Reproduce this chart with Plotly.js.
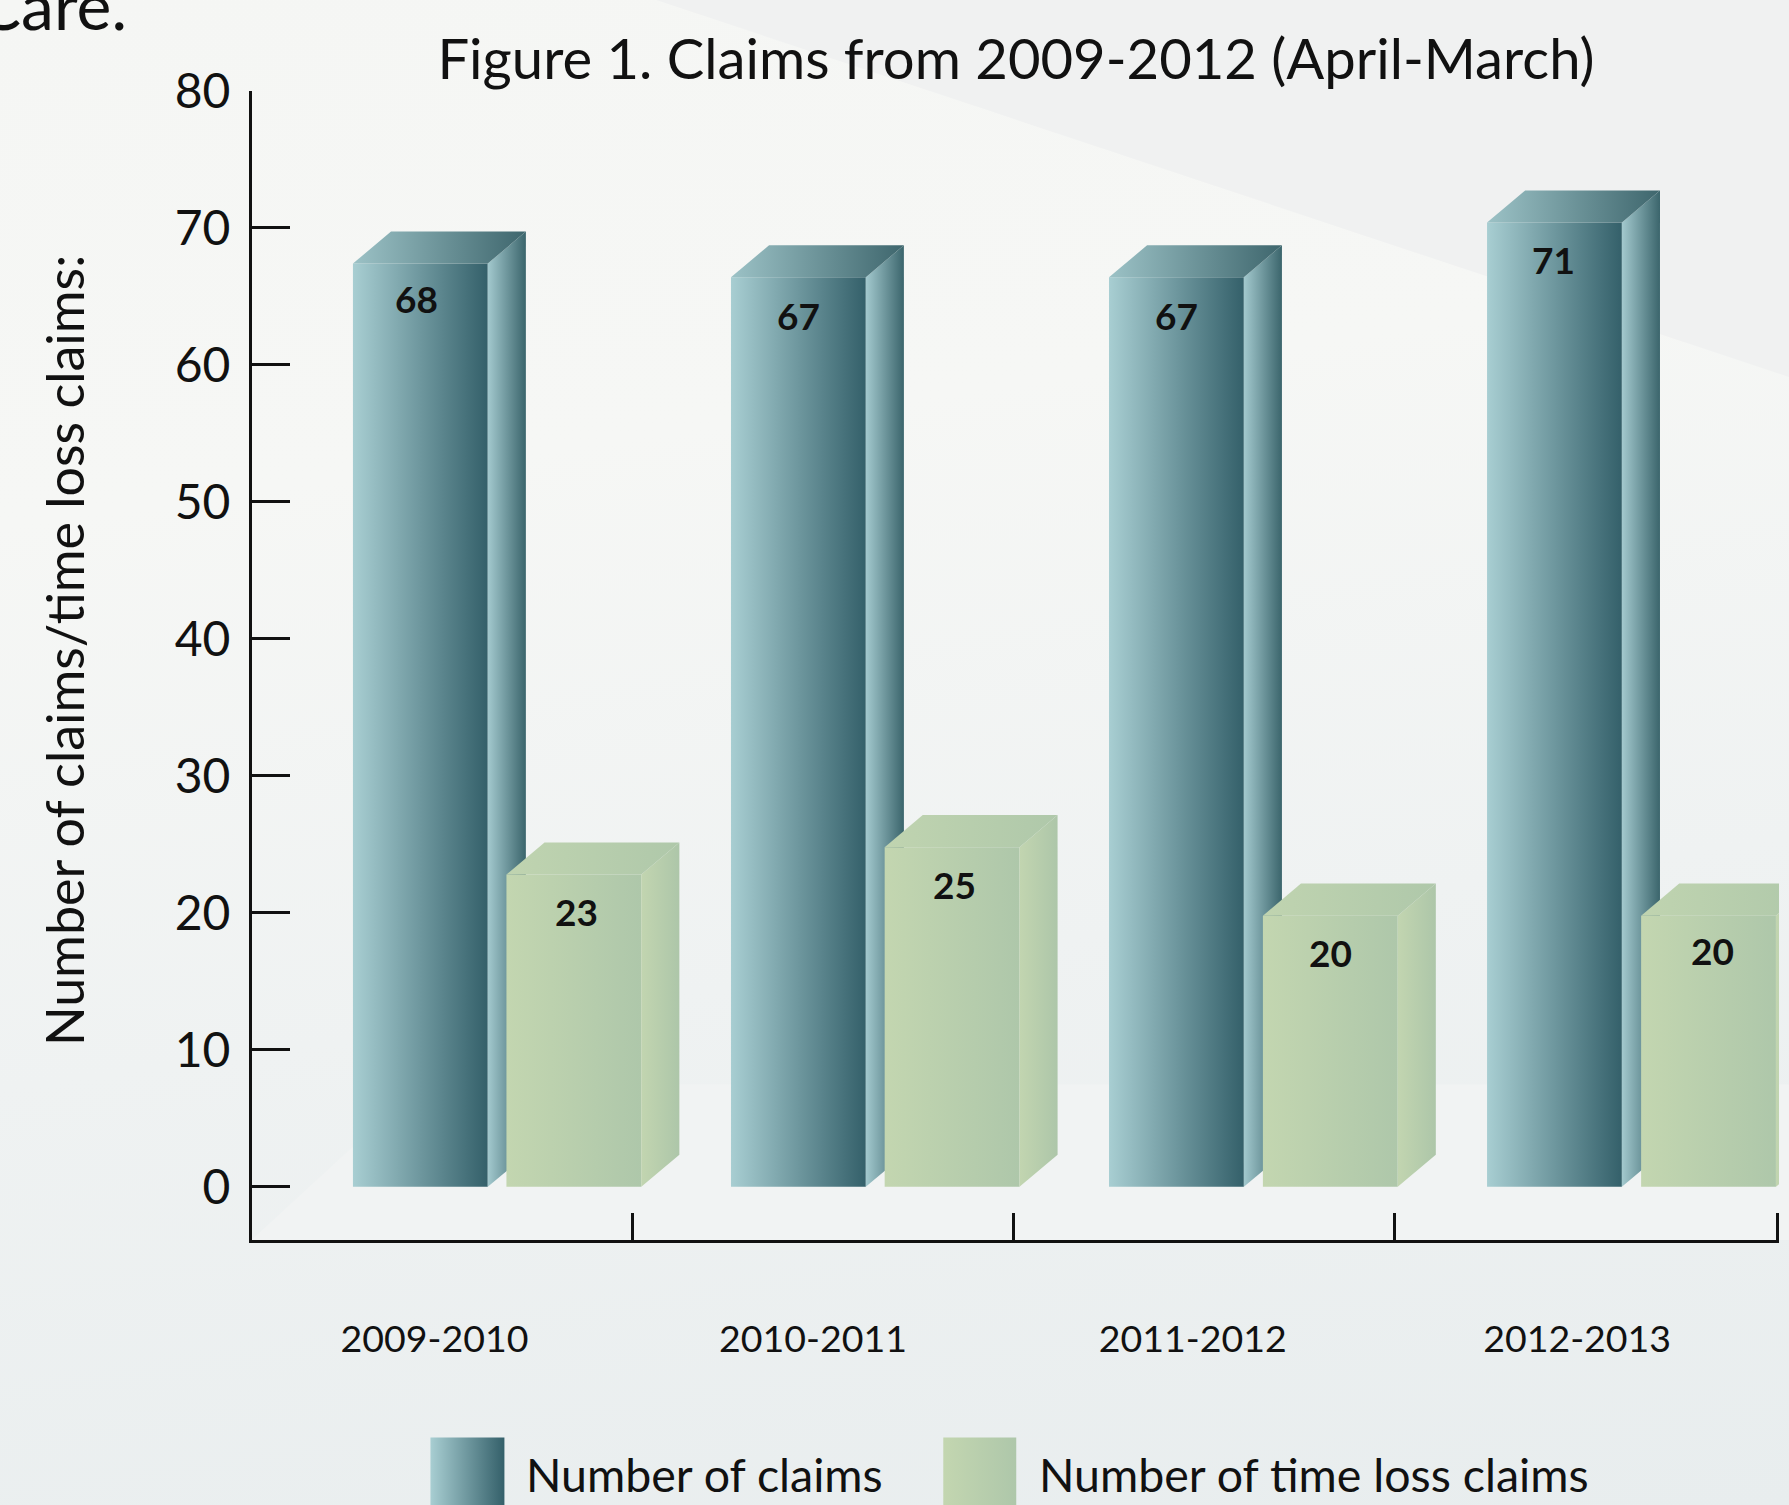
<!DOCTYPE html>
<html><head><meta charset="utf-8">
<script src="https://cdn.plot.ly/plotly-3.0.1.min.js"></script>
<style>
html,body{margin:0;padding:0;width:1789px;height:1505px;overflow:hidden;
background:linear-gradient(172deg,#f5f6f4 0%,#f6f7f5 30%,#eff2f2 62%,#e8edee 100%);}
#chart{width:1789px;height:1505px;}
</style></head><body><div id="chart"></div>
<script>
// ---- chart values ----
const categories = ['2009-2010','2010-2011','2011-2012','2012-2013'];
const claimLabels = [68,67,67,71];
const timeLossLabels = [23,25,20,20];
const claimHeights = [67.4,66.4,66.4,70.4];      // bar tops as drawn in the picture
const timeLossHeights = [22.8,24.8,19.8,19.8];
const yTicks = [0,10,20,30,40,50,60,70,80];
const seriesNames = ['Number of claims','Number of time loss claims'];

// ---- geometry & style ----
const W=1789,H=1505,L=251.5,R=1779,T=91,B=1240.5;
const FONT='Lato, "Noto Sans", sans-serif', INK='#111111';
const xRange=[-0.479,3.53], yRange=[-3.88,80];
const barW=0.354, depthX=0.1, depthY=2.34;
const positions=categories.map((_,i)=>i);
const labelPositions=[0,0.994,1.991,3];
const claimOffsets=positions.map(i=>-0.214-0.0075*i);
const lossOffsets=positions.map(i=>0.189-0.007*i);
const boundaries=[0.52,1.52,2.52,3.527];
const claimNudge=[[-4,2],[0,-1],[0,-1],[-1,0]], lossNudge=[[3,0],[2,0],[0,0],[4,2]];
const claimFront=['#a8ced2','#34606a'], claimSide=['#a3c9ce','#3b656c'], claimTop=['#9cc2c6','#3e666d'];
const lossFront=['#c3d6b0','#aec7aa'], lossSide=['#c2d5b0','#adc6a9'], lossTop=['#c0d4b0','#afc8aa'];

const px=x=>(x-L)/(R-L), py=y=>(B-y)/(B-T);

function faces(heights,offsets,side,top,xa,ya){
  const out=[];
  heights.forEach((h,i)=>{
    const l=i+offsets[i], r=l+barW;
    const common={type:'scatter',mode:'none',fill:'toself',hoverinfo:'skip',showlegend:false,cliponaxis:false,xaxis:xa,yaxis:ya};
    out.push(Object.assign({},common,{x:[r,r+depthX,r+depthX,r,r],y:[0,depthY,h+depthY,h,0],
      fillcolor:side[0],fillgradient:{type:'horizontal',colorscale:[[0,side[0]],[1,side[1]]]}}));
    out.push(Object.assign({},common,{x:[l,l+depthX,r+depthX,r,l],y:[h,h+depthY,h+depthY,h,h],
      fillcolor:top[0],fillgradient:{type:'horizontal',colorscale:[[0,top[0]],[1,top[1]]]}}));
  });
  return out;
}
const data=[
 {type:'bar',name:seriesNames[0],x:positions,y:claimHeights,width:barW,offset:claimOffsets,
  marker:{color:'#6d9298',line:{width:0}},xaxis:'x',yaxis:'y',hoverinfo:'skip'},
 ...faces(claimHeights,claimOffsets,claimSide,claimTop,'x','y'),
 {type:'bar',name:seriesNames[1],x:positions,y:timeLossHeights,width:barW,offset:lossOffsets,
  marker:{color:'#b9cfad',line:{width:0}},xaxis:'x2',yaxis:'y2',hoverinfo:'skip'},
 ...faces(timeLossHeights,lossOffsets,lossSide,lossTop,'x2','y2')
];

function valueNote(h,label,i,off,xa,ya,n){
  return {xref:xa,yref:ya,x:i+off+barW/2,y:h,xshift:n[0],yshift:-37+n[1],text:String(label),showarrow:false,
    xanchor:'center',yanchor:'middle',font:{family:FONT,size:37,color:INK,weight:700}};
}
const annotations=[
 ...claimHeights.map((h,i)=>valueNote(h,claimLabels[i],i,claimOffsets[i],'x','y',claimNudge[i])),
 ...timeLossHeights.map((h,i)=>valueNote(h,timeLossLabels[i],i,lossOffsets[i],'x2','y2',lossNudge[i])),
 {xref:'paper',yref:'paper',x:px(128),y:py(46),xanchor:'right',yanchor:'bottom',text:'Care.',showarrow:false,
  font:{family:FONT,size:66,color:INK}},
 {xref:'paper',yref:'paper',x:px(524),y:py(1475),xanchor:'left',yanchor:'middle',text:seriesNames[0],showarrow:false,
  font:{family:FONT,size:46.5,color:INK}},
 {xref:'paper',yref:'paper',x:px(1037),y:py(1475),xanchor:'left',yanchor:'middle',text:seriesNames[1],showarrow:false,
  font:{family:FONT,size:46.5,color:INK}}
];
const poly=(pts,fill)=>({type:'path',xref:'paper',yref:'paper',layer:'below',line:{width:0},fillcolor:fill,
  path:'M'+pts.map(p=>px(p[0])+' '+py(p[1])).join('L')+'Z'});
const swatch=(x0,x1,fill)=>({type:'rect',xref:'paper',yref:'paper',layer:'above',line:{width:0},fillcolor:fill,
  x0:px(x0),x1:px(x1),y0:py(1438),y1:py(1515)});
const shapes=[
 poly([[656,0],[1789,0],[1789,377]],'#f0f1f1'),
 poly([[251,1240.5],[420,1085],[1789,1085],[1789,1240.5]],'#f1f3f3'),
 swatch(430,504,'#6d9298'),
 swatch(943,1016,'#b9cfad')
];
const layout={
 width:W,height:H,margin:{l:L,r:W-R,t:T,b:H-B},showlegend:false,
 paper_bgcolor:'rgba(0,0,0,0)',plot_bgcolor:'rgba(0,0,0,0)',
 font:{family:FONT,color:INK},
 title:{text:'Figure 1. Claims from 2009-2012 (April-March)',font:{family:FONT,size:56.2,color:INK},
   x:1016/W,xref:'container',xanchor:'center',y:1-59/H,yanchor:'middle',yref:'container'},
 barmode:'overlay',
 xaxis:{range:xRange,tickmode:'array',tickvals:labelPositions,ticktext:categories,ticks:'',showgrid:false,zeroline:false,
   showline:true,linecolor:INK,linewidth:3,ticklabelstandoff:64,tickfont:{family:FONT,size:37.5,color:INK},fixedrange:true},
 xaxis2:{range:xRange,overlaying:'x',anchor:'y2',tickmode:'array',tickvals:boundaries,ticktext:boundaries.map(()=>''),
   ticks:'inside',ticklen:27,tickwidth:3,tickcolor:INK,showgrid:false,zeroline:false,showline:false,fixedrange:true},
 yaxis:{range:yRange,tickmode:'array',tickvals:yTicks,ticks:'inside',ticklen:38,tickwidth:3,tickcolor:INK,
   showgrid:false,zeroline:false,showline:true,linecolor:INK,linewidth:3,ticklabelstandoff:9,
   tickfont:{family:FONT,size:48,color:INK},automargin:false,fixedrange:true,
   title:{text:'Number of claims/time loss claims:',standoff:60,font:{family:FONT,size:52,color:INK}}},
 yaxis2:{range:yRange,overlaying:'y',visible:false,fixedrange:true},
 annotations,shapes
};
const gd=document.getElementById('chart');
Plotly.newPlot(gd,data,layout,{displayModeBar:false,staticPlot:true}).then(()=>{
  const NS='http://www.w3.org/2000/svg';
  const svg=gd.querySelector('svg.main-svg');
  const defs=svg.querySelector('defs');
  function grad(id,c){const g=document.createElementNS(NS,'linearGradient');g.setAttribute('id',id);
    g.setAttribute('x1','0');g.setAttribute('x2','1');g.setAttribute('y1','0');g.setAttribute('y2','0');
    c.forEach((col,k)=>{const s=document.createElementNS(NS,'stop');s.setAttribute('offset',k/(c.length-1));s.setAttribute('stop-color',col);g.appendChild(s);});
    defs.appendChild(g);return 'url(#'+id+')';}
  const gC=grad('gradClaims',claimFront), gL=grad('gradLoss',lossFront);
  const traces=gd.querySelectorAll('.barlayer .trace.bars');
  traces.forEach((t,k)=>t.querySelectorAll('.point path').forEach(p=>{p.style.fill=k===0?gC:gL;}));
  const sw=gd.querySelectorAll('.layer-above .shapelayer path');
  if(sw[0])sw[0].style.fill=gC; if(sw[1])sw[1].style.fill=gL;
  const yt=gd.querySelector('.ytitle');
  if(yt)yt.setAttribute('transform','translate(-14,-15) '+(yt.getAttribute('transform')||''));
});
</script></body></html>
